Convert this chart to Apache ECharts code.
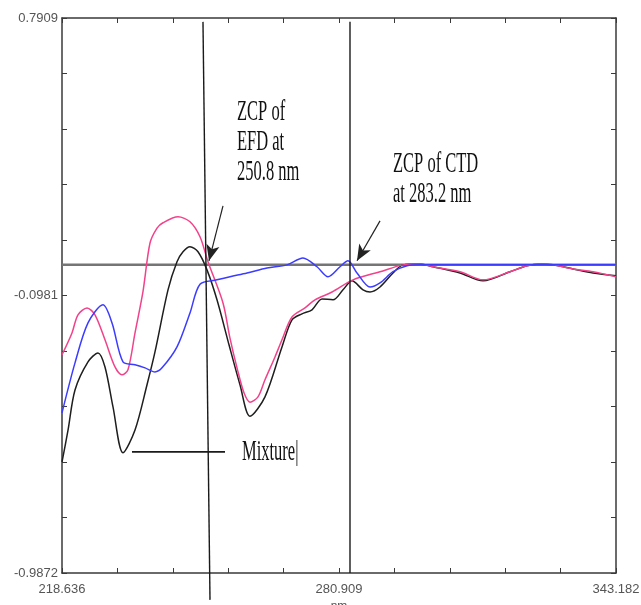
<!DOCTYPE html>
<html>
<head>
<meta charset="utf-8">
<script src="https://cdn.jsdelivr.net/npm/echarts@6/dist/echarts.min.js"></script>
<style>
html,body{margin:0;padding:0;background:#fff;}
#chart{width:641px;height:605px;}
</style>
</head>
<body>
<div id="chart"></div>
<script>
// axis range + labels
var xMin = 218.636, xMax = 343.182;
var yMin = -0.9872, yMax = 0.7909;
var xLabels = [218.636, 280.909, 343.182];
var yLabels = [0.7909, -0.0981, -0.9872];

// EFD (pink)
var efdX = [218.64, 220.88, 222.23, 224.26, 226.05, 228.30, 230.55, 232.12, 233.47, 235.05, 236.85, 238.42, 240.00, 241.34, 244.71, 247.41, 249.66, 251.46, 254.83, 256.40, 257.98, 259.55, 260.90, 262.70, 264.27, 266.52, 268.09, 270.34, 273.26, 275.51, 279.34, 284.06, 290.13, 295.30, 299.12, 302.04, 308.11, 313.28, 319.35, 323.17, 326.09, 329.01, 333.51, 338.01, 343.18];
var efdY = [-0.288, -0.218, -0.160, -0.138, -0.160, -0.240, -0.327, -0.352, -0.336, -0.218, -0.085, 0.070, 0.118, 0.135, 0.154, 0.138, 0.090, 0.010, -0.122, -0.235, -0.330, -0.410, -0.440, -0.423, -0.368, -0.295, -0.240, -0.167, -0.138, -0.112, -0.087, -0.048, -0.022, 0.000, 0.003, -0.006, -0.022, -0.048, -0.022, -0.003, 0.003, 0.000, -0.013, -0.022, -0.038];

// Mixture (black)
var mixX = [218.64, 220.00, 221.56, 224.48, 226.73, 228.30, 230.10, 232.35, 235.05, 237.75, 239.54, 242.47, 244.49, 245.84, 247.41, 249.21, 251.23, 253.48, 256.18, 258.65, 260.90, 264.27, 268.09, 270.34, 272.59, 274.84, 277.09, 279.56, 281.81, 283.83, 286.31, 287.88, 290.13, 293.05, 295.30, 299.12, 302.04, 308.11, 313.28, 319.35, 323.17, 326.09, 329.01, 333.51, 338.01, 343.18];
var mixY = [-0.631, -0.529, -0.401, -0.311, -0.282, -0.327, -0.455, -0.602, -0.529, -0.384, -0.279, -0.080, 0.010, 0.042, 0.058, 0.042, -0.016, -0.112, -0.256, -0.384, -0.485, -0.423, -0.263, -0.176, -0.157, -0.144, -0.109, -0.112, -0.080, -0.051, -0.080, -0.087, -0.071, -0.026, 0.000, 0.003, -0.006, -0.026, -0.051, -0.022, -0.003, 0.003, 0.000, -0.013, -0.026, -0.035];

// CTD (blue)
var ctdX = [218.64, 221.56, 224.48, 227.85, 229.88, 232.35, 235.05, 237.30, 239.54, 241.12, 244.49, 247.41, 249.66, 253.48, 256.40, 260.23, 264.72, 269.22, 272.81, 275.96, 278.44, 281.14, 282.93, 284.96, 287.88, 290.13, 293.05, 296.20, 299.12, 308.11, 321.60, 343.18];
var ctdY = [-0.474, -0.314, -0.186, -0.128, -0.186, -0.311, -0.320, -0.330, -0.343, -0.330, -0.263, -0.154, -0.062, -0.048, -0.038, -0.026, -0.010, 0.000, 0.022, -0.006, -0.038, -0.006, 0.013, -0.026, -0.071, -0.058, -0.022, -0.003, 0.000, 0.000, 0.000, 0.000];

function zip(xs, ys) {
    var out = [];
    for (var i = 0; i < xs.length; i++) out.push([xs[i], ys[i]]);
    return out;
}
// 10 even tick steps on each axis
function steps(a, b) {
    var out = [];
    for (var i = 0; i <= 10; i++) out.push(a + (b - a) * i / 10);
    return out;
}
var xTicks = steps(xMin, xMax);
var yTicks = steps(yMin, yMax);

var boxLine = {onZero: false, lineStyle: {color: '#3a3a3a', width: 1.5}};
var tickStyle = {inside: true, length: 5, lineStyle: {color: '#3a3a3a', width: 1}};
var labelFont = {color: '#555', fontSize: 13, fontFamily: 'Liberation Sans'};

var chart = echarts.init(document.getElementById('chart'));
var option = {
    animation: false,
    grid: {left: 62, right: 25, top: 18, bottom: 32, outerBoundsMode: 'none', containLabel: false},
    xAxis: [{
        type: 'value', min: xMin, max: xMax, position: 'bottom',
        axisLine: boxLine,
        axisTick: Object.assign({customValues: xTicks}, tickStyle),
        axisLabel: Object.assign({customValues: xLabels, margin: 10, formatter: function (v) { return v.toFixed(3); }}, labelFont),
        splitLine: {show: false},
        name: 'nm', nameLocation: 'middle', nameGap: 27,
        nameTextStyle: {color: '#555', fontSize: 12, fontFamily: 'Liberation Sans'}
    }, {
        type: 'value', min: xMin, max: xMax, position: 'top',
        axisLine: boxLine,
        axisTick: Object.assign({customValues: xTicks}, tickStyle),
        axisLabel: {show: false},
        splitLine: {show: false}
    }],
    yAxis: [{
        type: 'value', min: yMin, max: yMax, position: 'left',
        axisLine: boxLine,
        axisTick: Object.assign({customValues: yTicks}, tickStyle),
        axisLabel: Object.assign({customValues: yLabels, margin: 4, formatter: function (v) { return v.toFixed(4); }}, labelFont),
        splitLine: {show: false}
    }, {
        type: 'value', min: yMin, max: yMax, position: 'right',
        axisLine: boxLine,
        axisTick: Object.assign({customValues: yTicks}, tickStyle),
        axisLabel: {show: false},
        splitLine: {show: false}
    }],
    series: [
        {   // zero line + arrows
            name: 'zero', type: 'line', data: [[xMin, 0], [xMax, 0]],
            showSymbol: false, silent: true,
            lineStyle: {color: '#757575', width: 2.5}, z: 1,
            markLine: {
                silent: true, animation: false,
                symbol: ['none', 'arrow'], symbolSize: [10, 16],
                label: {show: false},
                lineStyle: {color: '#222', width: 1.2, type: 'solid'},
                itemStyle: {color: '#222'},
                data: [
                    [{coord: [254.83, 0.189]}, {coord: [251.68, 0.013]}],
                    [{coord: [290.13, 0.141]}, {coord: [284.96, 0.013]}]
                ]
            }
        },
        {
            name: 'Mixture', type: 'line', data: zip(mixX, mixY),
            showSymbol: false, smooth: 0.3, z: 3,
            lineStyle: {color: '#1e1e1e', width: 1.5}
        },
        {
            name: 'EFD', type: 'line', data: zip(efdX, efdY),
            showSymbol: false, smooth: 0.3, z: 4,
            lineStyle: {color: '#f2428a', width: 1.5}
        },
        {
            name: 'CTD', type: 'line', data: zip(ctdX, ctdY),
            showSymbol: false, smooth: 0.3, z: 5,
            lineStyle: {color: '#3c3cff', width: 1.5}
        },
        // ZCP lines
        {
            name: 'zcpEFD', type: 'line', data: [[250.33, 0.7785], [251.91, -1.0733]],
            showSymbol: false, clip: false, silent: true, z: 6,
            lineStyle: {color: '#1a1a1a', width: 1.4}
        },
        {
            name: 'zcpCTD', type: 'line', data: [[283.38, 0.7785], [283.38, yMin]],
            showSymbol: false, silent: true, z: 6,
            lineStyle: {color: '#1a1a1a', width: 1.4}
        },
        {
            name: 'mixLabelLine', type: 'line', data: [[234.37, -0.599], [255.28, -0.599]],
            showSymbol: false, silent: true, z: 6,
            lineStyle: {color: '#1a1a1a', width: 1.6}
        }
    ],
    graphic: [
        {type: 'text', x: 237, y: 98, scaleY: 1.75,
         style: {text: 'ZCP of\nEFD at\n250.8 nm', fontSize: 16.5, fontFamily: 'Liberation Serif', lineHeight: 17, fill: '#111', align: 'left', verticalAlign: 'top'}},
        {type: 'text', x: 393, y: 150, scaleY: 1.75,
         style: {text: 'ZCP of CTD\nat 283.2 nm', fontSize: 16.5, fontFamily: 'Liberation Serif', lineHeight: 17, fill: '#111', align: 'left', verticalAlign: 'top'}},
        {type: 'text', x: 242, y: 438, scaleY: 1.75,
         style: {text: 'Mixture|', fontSize: 16.5, fontFamily: 'Liberation Serif', lineHeight: 17, fill: '#111', align: 'left', verticalAlign: 'top'}}
    ]
};
chart.setOption(option);
</script>
</body>
</html>
